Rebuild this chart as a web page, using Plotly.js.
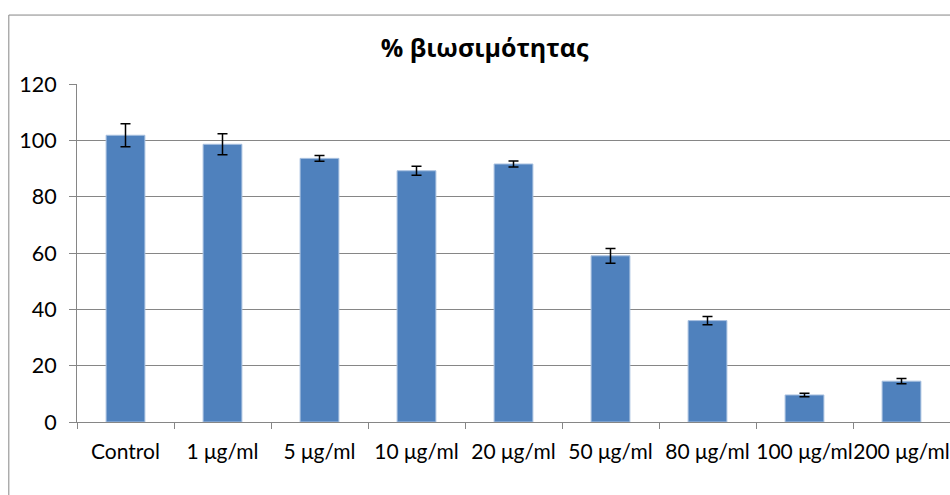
<!DOCTYPE html>
<html>
<head>
<meta charset="utf-8">
<script src="https://cdn.plot.ly/plotly-3.0.1.min.js"></script>
<style>
  html, body { margin: 0; padding: 0; background: #fff; }
  #chart { width: 950px; height: 495px; }
</style>
</head>
<body>
<div id="chart"></div>
<script>
const categories = ["Control", "1 μg/ml", "5 μg/ml", "10 μg/ml", "20 μg/ml", "50 μg/ml", "80 μg/ml", "100 μg/ml", "200 μg/ml"];
const viability = [101.8, 98.6, 93.6, 89.2, 91.6, 59.0, 36.0, 9.6, 14.5];
const errors = [4.1, 3.7, 1.0, 1.6, 1.1, 2.6, 1.5, 0.6, 0.9];
const yTicks = [0, 20, 40, 60, 80, 100, 120];
const chartTitle = "% βιωσιμότητας";

const trace = {
  type: "bar",
  x: categories,
  y: viability,
  width: 0.4,
  marker: { color: "#4F81BD", line: { color: "#A9C1E0", width: 1 } },
  error_y: { type: "data", array: errors, visible: true, color: "#000000", thickness: 1.5, width: 5 },
  hoverinfo: "x+y"
};

const layout = {
  width: 950,
  height: 495,
  margin: { l: 77, r: 0, t: 84, b: 73 },
  paper_bgcolor: "#ffffff",
  plot_bgcolor: "#ffffff",
  showlegend: false,
  bargap: 0.6,
  title: {
    text: "<b>" + chartTitle + "</b>",
    font: { family: "Open Sans, sans-serif", size: 25, color: "#000000" },
    x: 0.51, xref: "container", xanchor: "center",
    y: 0.903, yref: "container", yanchor: "middle"
  },
  xaxis: {
    type: "category",
    tickson: "boundaries",
    tickangle: 0,
    ticks: "outside",
    ticklen: 6,
    tickcolor: "#868686",
    showline: true,
    linecolor: "#868686",
    linewidth: 1,
    showgrid: false,
    tickfont: { family: "Lato, Open Sans, sans-serif", size: 21, color: "#000000" },
    ticklabelstandoff: 11,
    fixedrange: true
  },
  yaxis: {
    range: [0, 120],
    tickvals: yTicks,
    ticktext: yTicks.map(String),
    ticks: "outside",
    ticklen: 7,
    tickcolor: "#868686",
    showline: true,
    linecolor: "#868686",
    linewidth: 1,
    showgrid: true,
    gridcolor: "#868686",
    gridwidth: 1,
    zeroline: false,
    tickfont: { family: "Lato, Open Sans, sans-serif", size: 21.5, color: "#000000" },
    ticklabelstandoff: 8,
    fixedrange: true
  },
  shapes: [{
    type: "rect", xref: "paper", yref: "paper",
    x0: -0.0781, x1: 1.2, y0: -0.6, y1: 1.204,
    line: { color: "#868686", width: 1 }, fillcolor: "rgba(0,0,0,0)", layer: "below"
  }]
};

Plotly.newPlot("chart", [trace], layout, { displayModeBar: false, staticPlot: true });
</script>
</body>
</html>
